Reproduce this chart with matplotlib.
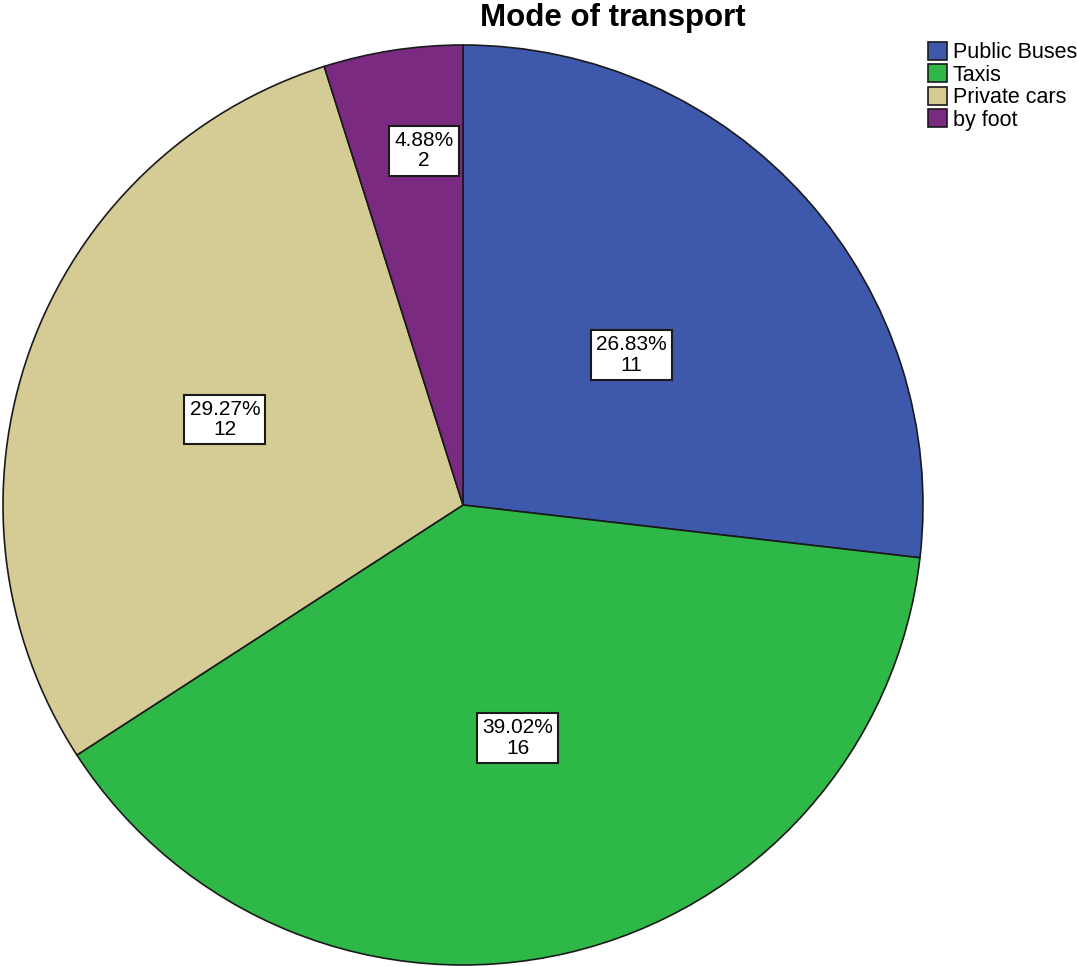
import matplotlib.pyplot as plt
import numpy as np

plt.rcParams['font.family'] = ['Liberation Sans', 'DejaVu Sans']

categories = ['Public Buses', 'Taxis', 'Private cars', 'by foot']
counts = [11, 16, 12, 2]
colors = ['#3E58AC', '#2EB848', '#D4CC94', '#7B2A82']
# label box placement: distance from centre (fraction of radius) and a small angle nudge
label_dist = [0.49, 0.52, 0.55, 0.775]
label_nudge = [0, 0, 0, -2.5]

fig = plt.figure(figsize=(10.77, 9.66), dpi=100)
ax = fig.add_axes([3 / 1077, 1 / 966, 920 / 1077, 920 / 966])

wedges, _ = ax.pie(counts, colors=colors, startangle=90, counterclock=False,
                   radius=1, wedgeprops=dict(edgecolor='#1a1a1a', linewidth=1.2))
ax.set_xlim(-1, 1)
ax.set_ylim(-1, 1)
ax.set_aspect('equal')
ax.axis('off')

total = sum(counts)
for w, n, d, nd in zip(wedges, counts, label_dist, label_nudge):
    mid = np.deg2rad((w.theta1 + w.theta2) / 2 + nd)
    ax.text(d * np.cos(mid), d * np.sin(mid), f'{n / total * 100:.2f}%\n{n}',
            ha='center', va='center', fontsize=15, linespacing=1.1,
            bbox=dict(boxstyle='square,pad=0.25', fc='white', ec='#1a1a1a', lw=1.5))

fig.text(613 / 1077, 1 - 18 / 966, 'Mode of transport', ha='center', va='center',
         fontsize=22.5, fontweight='bold')

fig.legend(wedges, categories, loc='upper left', bbox_to_anchor=(928 / 1077, 1 - 42 / 966),
           frameon=False, fontsize=15.5, handlelength=0.9, handleheight=0.9,
           handletextpad=0.25, labelspacing=0.05, borderpad=0, borderaxespad=0)

fig.savefig('out.png', dpi=100, facecolor='white')
